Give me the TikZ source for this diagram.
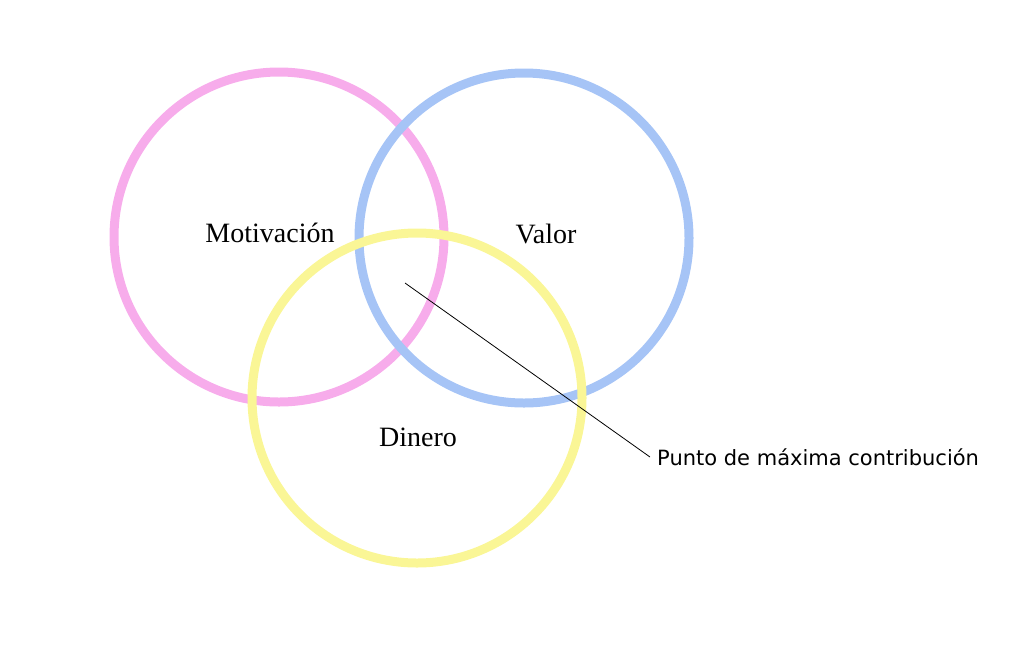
\documentclass[tikz,border=0pt]{standalone}
\usepackage{fontspec}
\setmainfont{Liberation Serif}
\newfontfamily\labelfont{DejaVu Sans}
\usetikzlibrary{positioning}
\definecolor{pinkring}{RGB}{247,172,235}
\definecolor{bluering}{RGB}{166,196,246}
\definecolor{yellowring}{RGB}{250,246,150}
\tikzset{
  ring/.style={line width=9pt},
  setname/.style={font=\fontsize{28}{32}\selectfont},
}
\begin{document}
\begin{tikzpicture}[x=1pt,y=-1pt]
\useasboundingbox (0,0) rectangle (1024,649);

% circles
\draw[ring,pinkring] (279,237) circle (165);
\draw[ring,bluering] (524,238) circle (165);
\draw[ring,yellowring] (417,398) circle (165);

% labels
\node[setname] (motiv) at (270,233) {Motivación};
\node[setname] (valor) at (546,234) {Valor};
\node[setname] (dinero) at (418,437) {Dinero};

\coordinate (centre) at (405,283);
\node[anchor=west,font=\labelfont\fontsize{21}{24}\selectfont,inner sep=7pt] (punto) at (650,457) {Punto de máxima contribución};
\draw[line width=0.8pt] (centre) -- (punto.west);
\end{tikzpicture}
\end{document}
